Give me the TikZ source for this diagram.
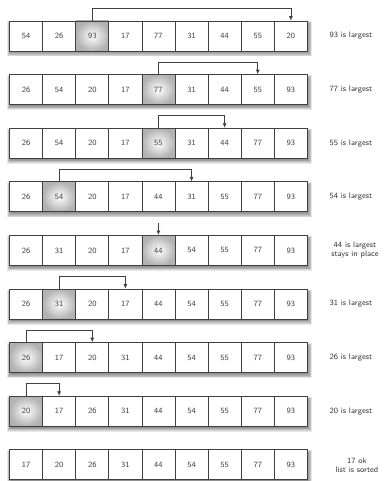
\documentclass[tikz,border=0pt]{standalone}
\usetikzlibrary{arrows.meta,calc}
\begin{document}
\begin{tikzpicture}[x=1pt,y=-1pt,
  font=\sffamily\fontsize{8}{9}\selectfont,
  cell/.style={draw=black!75,line width=0.8pt,fill=white,minimum width=33.1pt,minimum height=30pt,inner sep=0pt,text=black!75},
  hot/.style={cell,shading=radial,inner color=white,outer color=black!30},
  shadowlayer/.style={fill=black,fill opacity=0.09,draw=none},
  arr/.style={draw=black!75,line width=0.7pt,-{Latex[length=4.5pt,width=4pt]}},
  lbl/.style={text=black!80,anchor=west,font=\sffamily\fontsize{8}{9}\selectfont},
  lbltwo/.style={text=black!80,align=center,font=\sffamily\fontsize{8}{9}\selectfont}]
\useasboundingbox (0,0) rectangle (383,481);
\foreach \i/\h/\vals in {
  1/3/{54,26,93,17,77,31,44,55,20},
  2/5/{26,54,20,17,77,31,44,55,93},
  3/5/{26,54,20,17,55,31,44,77,93},
  4/2/{26,54,20,17,44,31,55,77,93},
  5/5/{26,31,20,17,44,54,55,77,93},
  6/2/{26,31,20,17,44,54,55,77,93},
  7/1/{26,17,20,31,44,54,55,77,93},
  8/1/{20,17,26,31,44,54,55,77,93},
  9/0/{17,20,26,31,44,54,55,77,93}}{
  \pgfmathsetmacro{\yc}{36+53.6*(\i-1)}
  \foreach \s in {0,1,2,3,4,5}{
    \fill[shadowlayer] (9.5+1-\s*0.7,\yc-15+3-\s*0.5) rectangle (9.5+9*33.1+1+\s*0.7,\yc+15+1.5+\s*0.8);
  }
  \foreach \v [count=\j] in \vals {
    \ifnum\j=\h
      \node[hot] (r\i c\j) at (9.5+33.1*\j-16.55,\yc) {\v};
    \else
      \node[cell] (r\i c\j) at (9.5+33.1*\j-16.55,\yc) {\v};
    \fi
  }
}
% labels
\node[lbl] (l1) at (326,36) {93 is largest};
\node[lbl] (l2) at (326,89.6) {77 is largest};
\node[lbl] (l3) at (326,143.2) {55 is largest};
\node[lbl] (l4) at (326,196.8) {54 is largest};
\node[lbltwo] (l5) at (355,250.4) {44 is largest\\stays in place};
\node[lbl] (l6) at (326,304) {31 is largest};
\node[lbl] (l7) at (326,357.6) {26 is largest};
\node[lbl] (l8) at (326,411.2) {20 is largest};
\node[lbltwo] (l9) at (357,464.8) {17 ok\\list is sorted};
% arrows
\draw[arr] (r1c3.north) -- ++(0,-12) -| (r1c9.north);
\draw[arr] (r2c5.north) -- ++(0,-12) -| (r2c8.north);
\draw[arr] (r3c5.north) -- ++(0,-12) -| (r3c7.north);
\draw[arr] (r4c2.north) -- ++(0,-12) -| (r4c6.north);
\coordinate (t5) at ($(r5c5.north)+(0,-12)$);
\draw[arr] (t5) -- (r5c5.north);
\draw[arr] (r6c2.north) -- ++(0,-12) -| (r6c4.north);
\draw[arr] (r7c1.north) -- ++(0,-12) -| (r7c3.north);
\draw[arr] (r8c1.north) -- ++(0,-12) -| (r8c2.north);
\end{tikzpicture}
\end{document}
